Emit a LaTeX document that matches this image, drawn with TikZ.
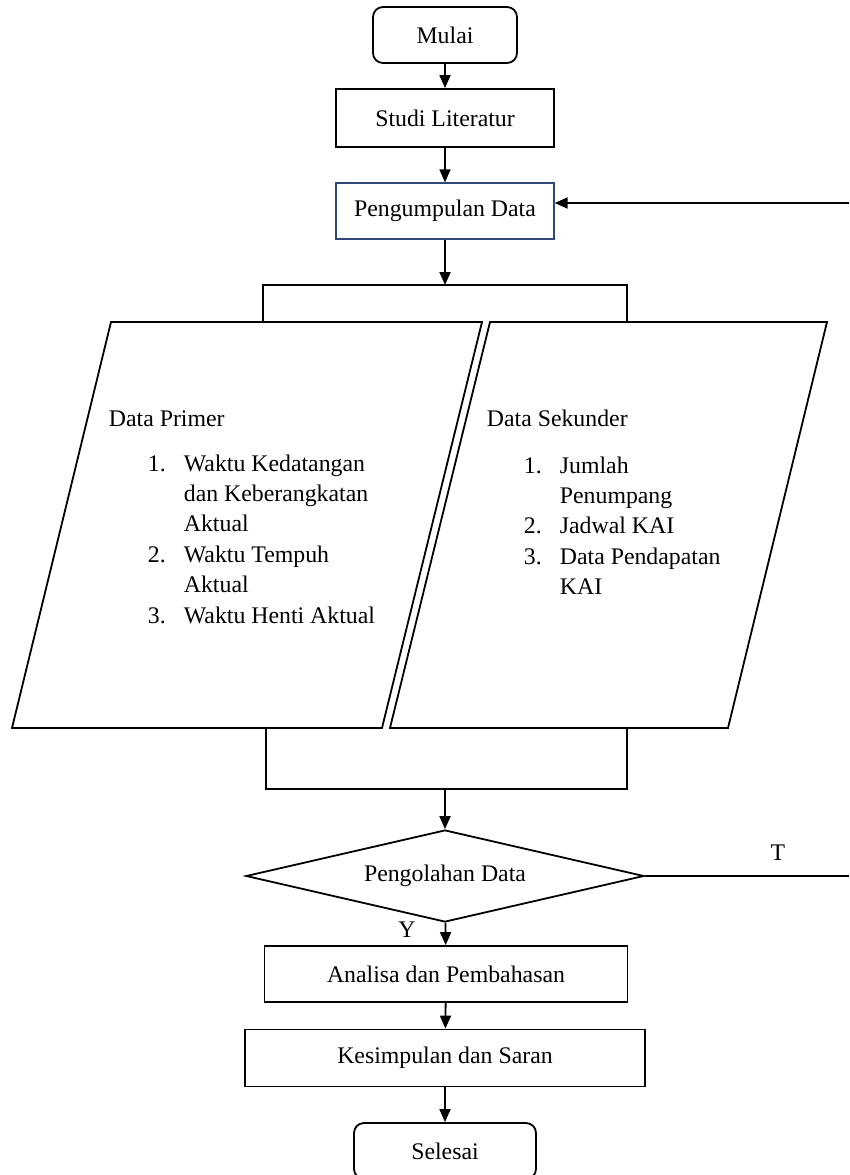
\documentclass[tikz,border=0pt]{standalone}
\usepackage{fontspec}
\setmainfont{Liberation Serif}
\usetikzlibrary{shapes.geometric,arrows.meta}
\definecolor{boxblue}{RGB}{47,72,118}
\begin{document}
\begin{tikzpicture}[x=1pt,y=-1pt,line width=1.8pt,font=\fontsize{23.8}{30.4}\selectfont,
  box/.style={draw,rectangle,inner sep=0pt},
  term/.style={draw,rectangle,rounded corners=10pt,inner sep=0pt},
  dec/.style={draw,diamond,aspect=4.33,inner sep=0pt},
  txt/.style={anchor=base west,inner sep=0pt},
  arr/.style={-{Triangle[length=13pt,width=11pt]}}]
\useasboundingbox (0,0) rectangle (849,1175);
\node[term,minimum width=144pt,minimum height=56pt] (mulai) at (445,35) {Mulai};
\node[box,minimum width=218pt,minimum height=58pt] (studi) at (445,118) {Studi Literatur};
\node[box,draw=boxblue,line width=1.4pt,minimum width=218pt,minimum height=56pt] (kumpul) at (445,211) {Pengumpulan Data};
\draw[arr] (mulai) -- (studi);
\draw[arr] (studi) -- (kumpul);
% split to the two data blocks
\coordinate (split) at (445,285);
\coordinate (splitl) at (263,285);
\coordinate (splitr) at (627,285);
\draw[arr] (kumpul) -- (split);
\draw (263,322) -- (splitl) -- (splitr) -- (627,322);
% data blocks
\draw (111,322) -- (482,322) -- (382,728) -- (12,728) -- cycle;
\draw (490,322) -- (827,322) -- (728,728) -- (390,728) -- cycle;
\node[txt] (primt) at (108,426) {Data Primer};
\node[txt] (priml) at (147,471) {\begin{tabular}[t]{@{}p{36pt}@{}l@{}}
1. & Waktu Kedatangan\\ & dan Keberangkatan\\ & Aktual\\
2. & Waktu Tempuh\\ & Aktual\\
3. & Waktu Henti Aktual\end{tabular}};
\node[txt] (sekt) at (486,426) {Data Sekunder};
\node[txt] (sekl) at (523,473) {\begin{tabular}[t]{@{}p{36pt}@{}l@{}}
1. & Jumlah\\ & Penumpang\\
2. & Jadwal KAI\\
3. & Data Pendapatan\\ & KAI\end{tabular}};
% join
\coordinate (join) at (445,789);
\draw (266,728) -- (266,789) -- (627,789) -- (627,728);
\node[dec,minimum width=398pt,minimum height=92pt] (olah) at (445,876) {Pengolahan Data};
\draw[arr] (join) -- (olah);
\coordinate (tout) at (849,876);
\draw (olah.east) -- (tout);
\node (tlab) at (778,853) {T};
\coordinate (back) at (849,203);
\draw[arr] (back) -- (back -| kumpul.east);
\node (ylab) at (407,930) {Y};
\node[box,minimum width=363pt,minimum height=56pt] (analisa) at (446,974) {Analisa dan Pembahasan};
\node[box,minimum width=400pt,minimum height=57pt] (simpul) at (445,1058) {Kesimpulan dan Saran};
\node[term,minimum width=182pt,minimum height=56pt] (selesai) at (445,1151) {Selesai};
\draw[arr] (olah) -- (analisa);
\draw[arr] (analisa) -- (simpul);
\draw[arr] (simpul) -- (selesai);
\end{tikzpicture}
\end{document}
